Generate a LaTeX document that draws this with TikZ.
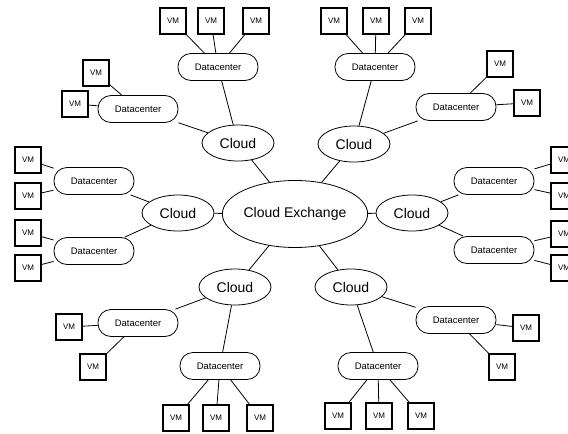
\documentclass[tikz,border=0pt]{standalone}
\usepackage{fontspec}
\setmainfont{Liberation Sans}
\usepackage{tikz}
\usetikzlibrary{shapes.geometric}

\begin{document}
\begin{tikzpicture}[x=1pt,y=-1pt,line width=0.8pt,
  cloud/.style={ellipse,draw,minimum width=72pt,minimum height=36pt,inner sep=0pt,font=\fontsize{14}{16}\selectfont},
  dc/.style={draw,rounded corners=13pt,minimum width=80pt,minimum height=27pt,inner sep=0pt,font=\fontsize{9.5}{11}\selectfont},
  vm/.style={draw,minimum size=26pt,inner sep=0pt,line width=1.1pt,font=\fontsize{8}{9}\selectfont}]
\useasboundingbox (0,0) rectangle (568,434);

\node [cloud,minimum width=122pt,minimum height=67pt] (z) at (295,214) {Cloud Exchange};
\node [cloud] (a) at (238,143) {Cloud};
\node [cloud] (b) at (354,144) {Cloud};
\node [cloud] (c) at (178,213) {Cloud};
\node [cloud] (d) at (412,213) {Cloud};
\node [cloud] (e) at (235,287) {Cloud};
\node [cloud] (f) at (351,287) {Cloud};

\node [dc] (a1) at (218,67) {Datacenter};
\node [dc] (a2) at (138,109) {Datacenter};
\node [dc] (b1) at (375,67) {Datacenter};
\node [dc] (b2) at (456,107) {Datacenter};
\node [dc] (c1) at (94,181) {Datacenter};
\node [dc] (c2) at (94,251) {Datacenter};
\node [dc] (d1) at (494,181) {Datacenter};
\node [dc] (d2) at (494,250) {Datacenter};
\node [dc] (e1) at (138,323) {Datacenter};
\node [dc] (e2) at (220,366) {Datacenter};
\node [dc] (f1) at (456,320) {Datacenter};
\node [dc] (f2) at (378,366) {Datacenter};

\node [vm] (a11) at (173,21) {VM};
\node [vm] (a12) at (211,21) {VM};
\node [vm] (a13) at (256,21) {VM};
\node [vm] (a21) at (96,73) {VM};
\node [vm] (a22) at (75,104) {VM};
\node [vm] (b11) at (334,21) {VM};
\node [vm] (b12) at (376,21) {VM};
\node [vm] (b13) at (418,21) {VM};
\node [vm] (b21) at (500,64) {VM};
\node [vm] (b22) at (527,103) {VM};
\node [vm] (c11) at (28,160) {VM};
\node [vm] (c12) at (28,196) {VM};
\node [vm] (c21) at (28,233) {VM};
\node [vm] (c22) at (28,268) {VM};
\node [vm] (d11) at (564,160) {VM};
\node [vm] (d12) at (564,196) {VM};
\node [vm] (d21) at (564,234) {VM};
\node [vm] (d22) at (564,268) {VM};
\node [vm] (e11) at (69,327) {VM};
\node [vm] (e12) at (93,367) {VM};
\node [vm] (e21) at (176,418) {VM};
\node [vm] (e22) at (216,418) {VM};
\node [vm] (e23) at (260,418) {VM};
\node [vm] (f11) at (526,328) {VM};
\node [vm] (f12) at (502,367) {VM};
\node [vm] (f21) at (338,416) {VM};
\node [vm] (f22) at (379,416) {VM};
\node [vm] (f23) at (421,416) {VM};

% exchange to clouds
\draw (z) -- (a) (z) -- (b) (z) -- (c) (z) -- (d) (z) -- (e) (z) -- (f);
% clouds to datacenters
\draw (a) -- (a1) (a) -- (a2) (b) -- (b1) (b) -- (b2)
      (c) -- (c1) (c) -- (c2) (d) -- (d1) (d) -- (d2)
      (e) -- (e1) (e) -- (e2) (f) -- (f1) (f) -- (f2);
% datacenters to vms
\draw (a1) -- (a11) (a1) -- (a12) (a1) -- (a13) (a2) -- (a21) (a2) -- (a22);
\draw (b1) -- (b11) (b1) -- (b12) (b1) -- (b13) (b2) -- (b21) (b2) -- (b22);
\draw (c1) -- (c11) (c1) -- (c12) (c2) -- (c21) (c2) -- (c22);
\draw (d1) -- (d11) (d1) -- (d12) (d2) -- (d21) (d2) -- (d22);
\draw (e1) -- (e11) (e1) -- (e12) (e2) -- (e21) (e2) -- (e22) (e2) -- (e23);
\draw (f1) -- (f11) (f1) -- (f12) (f2) -- (f21) (f2) -- (f22) (f2) -- (f23);

\end{tikzpicture}
\end{document}
